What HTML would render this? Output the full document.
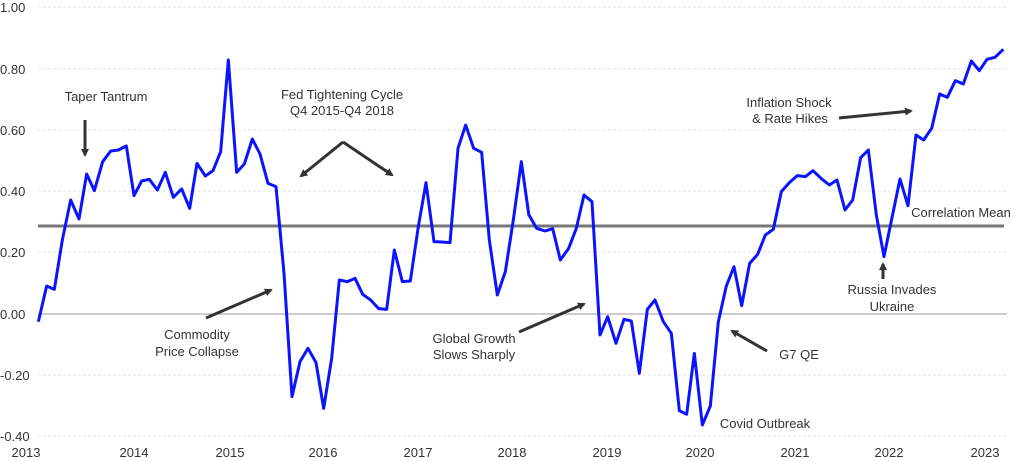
<!DOCTYPE html>
<html><head><meta charset="utf-8"><style>
body{margin:0;background:#fff;}
svg{display:block;font-family:"Liberation Sans",Arial,sans-serif;}
</style></head><body>
<svg width="1024" height="461" viewBox="0 0 1024 461">
<defs><marker id="a" markerWidth="8" markerHeight="8" refX="6" refY="4" orient="auto" markerUnits="userSpaceOnUse" viewBox="0 0 8 8"><path d="M0,0 L8,4 L0,8 Z" fill="#333"/></marker></defs>
<g stroke="#e3e3e3" stroke-width="1" stroke-dasharray="3,2">
<line x1="38" y1="7" x2="1006" y2="7"/><line x1="38" y1="69" x2="1006" y2="69"/><line x1="38" y1="130" x2="1006" y2="130"/><line x1="38" y1="191" x2="1006" y2="191"/><line x1="38" y1="252" x2="1006" y2="252"/><line x1="38" y1="375" x2="1006" y2="375"/><line x1="38" y1="436" x2="1006" y2="436"/>
</g>
<line x1="38" y1="314" x2="1007" y2="314" stroke="#999" stroke-width="1"/>
<line x1="38" y1="226" x2="1004" y2="226" stroke="#777" stroke-width="3"/>
<g font-size="13" fill="#333">
<text x="0" y="12">1.00</text><text x="0" y="74">0.80</text><text x="0" y="135">0.60</text><text x="0" y="196">0.40</text><text x="0" y="257">0.20</text><text x="0" y="319">0.00</text><text x="0" y="380">-0.20</text><text x="0" y="441">-0.40</text>
</g>
<g font-size="13" fill="#333" text-anchor="middle">
<text x="26" y="457">2013</text><text x="134" y="457">2014</text><text x="230" y="457">2015</text><text x="323" y="457">2016</text><text x="418" y="457">2017</text><text x="512" y="457">2018</text><text x="607" y="457">2019</text><text x="700" y="457">2020</text><text x="795" y="457">2021</text><text x="889" y="457">2022</text><text x="985" y="457">2023</text>
</g>
<g transform="translate(30,0) scale(0.33333)" fill="none" stroke="#0a14ff" stroke-width="9" stroke-linejoin="round">
<polyline points="25,965 50,858 73,868 97,720 122,600 147,657 170,522 193,572 218,485 242,453 265,450 289,438 312,587 335,543 358,538 382,570 406,517 430,592 455,567 479,625 501,490 526,528 549,512 572,455 595,180 620,517 643,492 667,417 690,462 714,550 738,560 762,820 786,1190 810,1085 834,1045 858,1088 881,1225 905,1075 928,840 952,845 975,835 998,883 1022,900 1046,926 1070,928 1093,750 1117,845 1141,843 1165,680 1188,548 1212,725 1236,726 1260,728 1284,445 1307,375 1331,445 1355,457 1378,720 1402,885 1426,815 1450,660 1474,485 1497,648"/>
</g>
<g transform="translate(510,0) scale(0.33333)" fill="none" stroke="#0a14ff" stroke-width="9" stroke-linejoin="round">
<polyline points="57,645 80,685 105,693 128,686 151,780 176,745 199,685 222,585 246,605 270,1005 293,950 318,1030 342,958 364,963 388,1120 412,928 435,900 460,965 484,1000 508,1232 530,1243 553,1060 577,1275 601,1218 625,965 649,858 672,800 695,917 719,790 743,763 766,705 790,688 814,575 838,548 862,527 886,530 909,512 933,535 958,555 981,540 1005,630 1028,600 1052,473 1075,450 1099,645 1122,770 1146,653 1170,537 1194,617 1218,405 1241,420 1265,385 1289,282 1312,292 1336,242 1360,252 1384,183 1408,212 1431,178 1455,172 1480,148"/>
</g>
<g stroke="#333" stroke-width="3" marker-end="url(#a)">
<line x1="85" y1="120" x2="85" y2="155"/>
<line x1="343" y1="142" x2="301" y2="176"/>
<line x1="343" y1="142" x2="392" y2="175"/>
<line x1="206" y1="318" x2="271" y2="290"/>
<line x1="519" y1="332" x2="584" y2="304"/>
<line x1="767" y1="351" x2="732" y2="331"/>
<line x1="883" y1="279" x2="883" y2="264"/>
<line x1="839" y1="118" x2="911" y2="111"/>
</g>
<g font-size="13" fill="#333" text-anchor="middle">
<text x="106" y="101">Taper Tantrum</text>
<text x="342" y="99">Fed Tightening Cycle</text><text x="342" y="115">Q4 2015-Q4 2018</text>
<text x="197" y="339">Commodity</text><text x="197" y="356">Price Collapse</text>
<text x="474" y="343">Global Growth</text><text x="474" y="359">Slows Sharply</text>
<text x="799" y="359">G7 QE</text>
<text x="765" y="428">Covid Outbreak</text>
<text x="892" y="294">Russia Invades</text><text x="892" y="311">Ukraine</text>
<text x="789" y="107">Inflation Shock</text><text x="790" y="123">&amp; Rate Hikes</text>
<text x="961" y="217">Correlation Mean</text>
</g>
</svg>
</body></html>
